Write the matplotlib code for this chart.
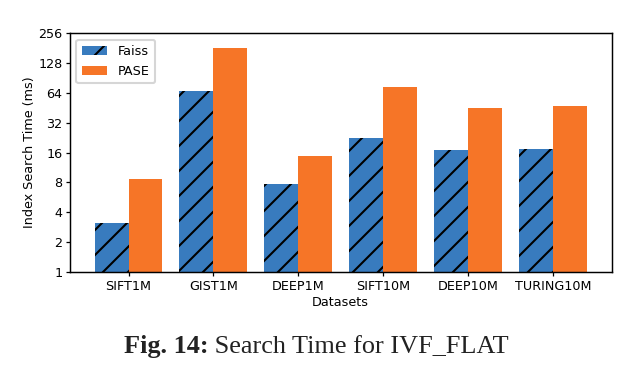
import matplotlib
matplotlib.use("Agg")
import matplotlib.pyplot as plt
import numpy as np

datasets = ["SIFT1M", "GIST1M", "DEEP1M", "SIFT10M", "DEEP10M", "TURING10M"]
faiss = [3.15, 67, 7.7, 22.7, 16.9, 17.6]
pase = [8.6, 184, 14.8, 73.5, 45, 47.6]
yticks = [1, 2, 4, 8, 16, 32, 64, 128, 256]

DPI = 150
fig = plt.figure(figsize=(639 / DPI, 377 / DPI), dpi=DPI)
ax = fig.add_axes([0.1095, 0.2785, 0.8475, 0.6332])

x = np.arange(len(datasets))
w = 0.4
plt.rcParams['hatch.color'] = 'black'
plt.rcParams['hatch.linewidth'] = 1.0
ax.bar(x - w / 2, faiss, w, color='#387bbe', hatch='//', label='Faiss')
ax.bar(x + w / 2, pase, w, color='#f67527', label='PASE')

ax.set_yscale('log', base=2)
ax.set_ylim(1, 256)
ax.set_yticks(yticks)
ax.set_yticklabels([str(t) for t in yticks])
ax.minorticks_off()
ax.set_xticks(x)
ax.set_xticklabels(datasets)
fs = 6.1
ax.tick_params(labelsize=fs, length=1.8, width=0.6, pad=1.8)
ax.set_xlabel('Datasets', fontsize=fs, labelpad=1.5)
ax.set_ylabel('Index Search Time (ms)', fontsize=fs, labelpad=1.2)
for s in ax.spines.values():
    s.set_linewidth(0.7)
ax.legend(loc='upper left', fontsize=fs, handlelength=2.0, borderpad=0.45,
          labelspacing=0.5, handletextpad=0.8, borderaxespad=0.5)

# caption
cap_fs = 12.6
cy = 1 - 347 / 377
fig.canvas.draw()
r = fig.canvas.get_renderer()
t1 = fig.text(0, cy, 'Fig. 14:', fontsize=cap_fs, fontweight='bold',
              family='Liberation Serif', va='center', ha='left', color='#222222')
t2 = fig.text(0, cy, ' Search Time for IVF_FLAT', fontsize=cap_fs,
              family='Liberation Serif', va='center', ha='left', color='#222222')
w1 = t1.get_window_extent(r).width
w2 = t2.get_window_extent(r).width
total = w1 + w2
x0 = 316.5 - total / 2
t1.set_x(x0 / 639)
t2.set_x((x0 + w1) / 639)

fig.savefig('out.png', dpi=DPI)
